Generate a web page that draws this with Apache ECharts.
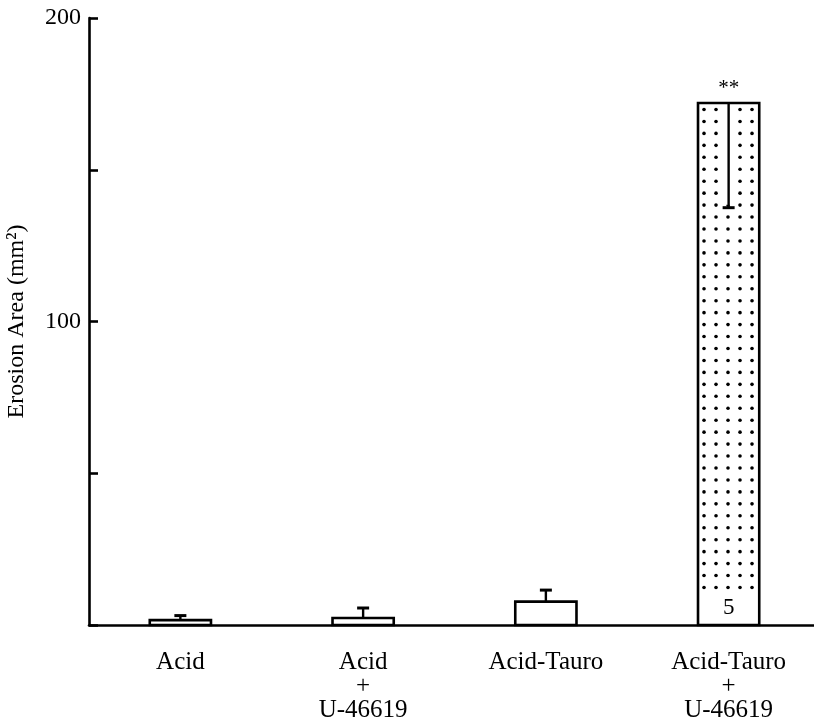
<!DOCTYPE html>
<html>
<head>
<meta charset="utf-8">
<script src="https://cdn.jsdelivr.net/npm/echarts@6/dist/echarts.min.js"></script>
<style>
  html, body { margin: 0; padding: 0; background: #fff; }
  #chart { width: 814px; height: 717px; }
</style>
</head>
<body>
<div id="chart"></div>
<script>
// Groups on the x axis
const categories = ['Acid', 'Acid\n+\nU-46619', 'Acid-Tauro', 'Acid-Tauro\n+\nU-46619'];
// Mean erosion area (mm²)
const means = [1.6, 2.3, 7.7, 172];
// Standard error for each group
const sems = [1.5, 3.3, 3.8, 34.5];
// Error bar direction: 1 = drawn above the bar, -1 = drawn into the bar
const errDir = [1, 1, 1, -1];
// Dotted fill marks the group with a significant effect
const dotted = [false, false, false, true];
// Sample size written inside the bar, and significance stars
const nLabels = ['', '', '', '5'];
const stars = ['', '', '', '**'];
// Y axis ticks; only some of them carry a label
const yTicks = [0, 50, 100, 150, 200];
const yLabelled = [100, 200];

const FONT = '"Liberation Serif", "DejaVu Serif", serif';

function renderBar(params, api) {
  const i = params.dataIndex;
  const xi = api.value(0);
  const mean = api.value(1);
  const sem = api.value(2);
  const base = api.coord([xi, 0]);
  const top = api.coord([xi, mean]);
  const bw = api.size([1, 0])[0] * 0.335;
  const cx = top[0];
  const x0 = cx - bw / 2;
  const children = [];

  children.push({
    type: 'rect',
    shape: { x: x0, y: top[1], width: bw, height: base[1] - top[1] },
    style: { fill: '#fff', stroke: '#000', lineWidth: 2.6 },
    z2: 1
  });

  if (dotted[i]) {
    // dot texture covering the bar, leaving a plain strip at the bottom for n
    const dotBottom = base[1] - 36;
    for (let y = top[1] + 6.5; y <= dotBottom; y += 11.95) {
      for (let x = x0 + 6; x < x0 + bw - 3; x += 12) {
        children.push({
          type: 'circle',
          shape: { cx: x, cy: y, r: 1.8 },
          style: { fill: '#000' },
          z2: 2
        });
      }
    }
  }

  const end = api.coord([xi, mean + errDir[i] * sem]);
  if (errDir[i] < 0) {
    children.push({
      type: 'line',
      shape: { x1: cx, y1: top[1] + 2, x2: cx, y2: end[1] - 3 },
      style: { stroke: '#fff', lineWidth: 8 },
      z2: 3
    });
  }
  children.push({
    type: 'line',
    shape: { x1: cx, y1: top[1], x2: cx, y2: end[1] },
    style: { stroke: '#000', lineWidth: 2.4 },
    z2: 4
  });
  children.push({
    type: 'line',
    shape: { x1: cx - 6, y1: end[1], x2: cx + 6, y2: end[1] },
    style: { stroke: '#000', lineWidth: 3 },
    z2: 4
  });

  if (nLabels[i]) {
    children.push({
      type: 'text',
      style: {
        x: cx, y: base[1] - 17, text: nLabels[i],
        font: '23px ' + FONT, fill: '#000',
        align: 'center', verticalAlign: 'middle'
      },
      z2: 5
    });
  }
  if (stars[i]) {
    children.push({
      type: 'text',
      style: {
        x: cx, y: top[1] - 14, text: stars[i],
        font: '21px ' + FONT, fill: '#000',
        align: 'center', verticalAlign: 'middle'
      },
      z2: 5
    });
  }
  return { type: 'group', children: children };
}

const chart = echarts.init(document.getElementById('chart'), null, { renderer: 'canvas' });
chart.setOption({
  backgroundColor: '#fff',
  animation: false,
  grid: {
    left: 89, top: 18, width: 731, height: 607,
    containLabel: false, outerBoundsMode: 'none'
  },
  xAxis: {
    type: 'category',
    data: categories,
    boundaryGap: true,
    axisLine: { lineStyle: { color: '#000', width: 2.6 } },
    axisTick: { show: false },
    axisLabel: {
      color: '#000', fontFamily: FONT, fontSize: 25, lineHeight: 24,
      margin: 25, interval: 0
    },
    splitLine: { show: false }
  },
  yAxis: {
    type: 'value',
    min: yTicks[0],
    max: yTicks[yTicks.length - 1],
    interval: yTicks[1] - yTicks[0],
    name: 'Erosion Area (mm²)',
    nameLocation: 'middle',
    nameGap: 60,
    nameTextStyle: { color: '#000', fontFamily: FONT, fontSize: 24 },
    axisLine: { show: true, lineStyle: { color: '#000', width: 2.6 } },
    axisTick: { show: true, inside: true, length: 9, lineStyle: { color: '#000', width: 2.6 } },
    axisLabel: {
      color: '#000', fontFamily: FONT, fontSize: 24, margin: 8,
      formatter: v => (yLabelled.indexOf(v) >= 0 ? String(v) : '')
    },
    splitLine: { show: false }
  },
  series: [{
    type: 'custom',
    renderItem: renderBar,
    clip: false,
    data: categories.map((c, i) => [i, means[i], sems[i]]),
    z: 5
  }]
});
</script>
</body>
</html>
